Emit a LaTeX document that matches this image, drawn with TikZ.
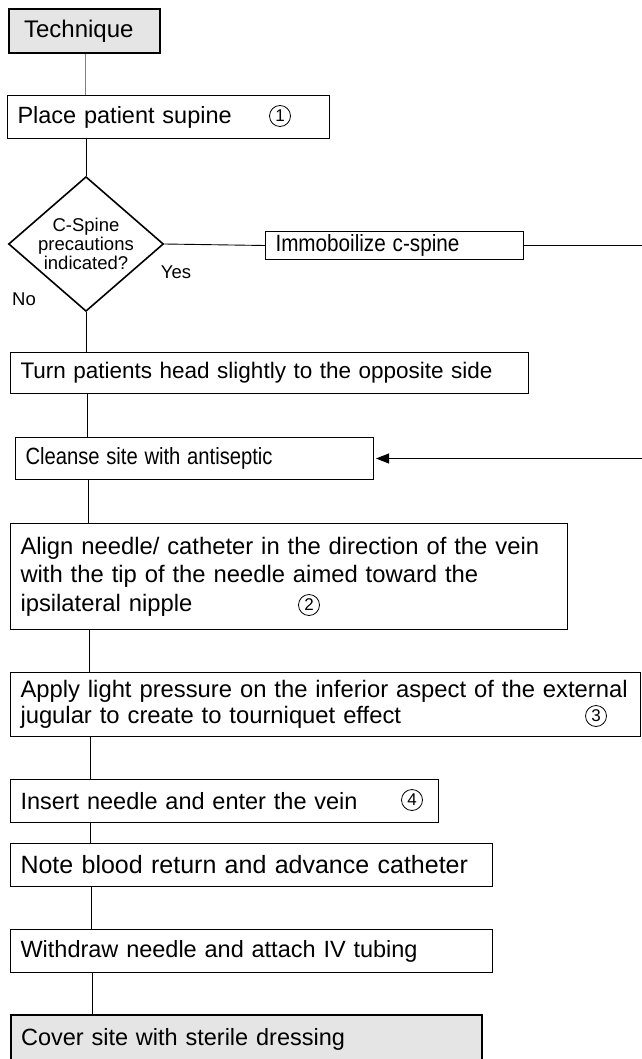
\documentclass[tikz,border=0pt]{standalone}
\usepackage{fontspec}
\setmainfont{Liberation Sans}
\usetikzlibrary{shapes,positioning,calc,arrows.meta}

\begin{document}
\begin{tikzpicture}[
    x=1pt,y=-1pt,
    stepbox/.style={draw,line width=1pt,anchor=north west,align=left,inner xsep=10pt,inner ysep=0pt,font=\fontsize{23.5}{28}\selectfont},
    endbox/.style={stepbox,fill=black!10,line width=2.2pt},
    decision/.style={diamond,draw,line width=1.6pt,aspect=1.15,minimum width=150pt,minimum height=129pt,inner sep=0pt,align=center,font=\fontsize{18.5}{19}\selectfont},
    num/.style={circle,draw,line width=0.8pt,inner sep=0pt,minimum size=21pt,font=\fontsize{17}{17}\selectfont},
    lbl/.style={font=\fontsize{18.5}{18.5}\selectfont},
    link/.style={line width=0.9pt}
    ]
        \useasboundingbox (0,0) rectangle (641,1059);
        \node [endbox,inner xsep=15pt,text width=121pt,minimum height=44pt,font=\fontsize{24}{28}\selectfont](tech) at (8,8) {Technique};
        \node [stepbox,text width=302pt,minimum height=43pt](place) at (7,95) {Place patient supine};
        \node [num](n1) at (280,116) {1};
        \node [decision](spine) at (86,244) {C-Spine\\precautions\\indicated?};
        \node [lbl](yes) at (176,272) {Yes};
        \node [lbl](no) at (24,299) {No};
        \node [stepbox,text width=238pt,minimum height=28pt](immob) at (265,231) {\scalebox{0.88}[1]{Immoboilize c-spine}};
        \node [stepbox,text width=498pt,minimum height=41pt,font=\fontsize{22.5}{27}\selectfont](turn) at (10,352) {Turn patients head slightly to the opposite side};
        \node [stepbox,text width=338pt,minimum height=42pt](clean) at (15,437) {\scalebox{0.86}[1]{Cleanse site with antiseptic}};
        \node [stepbox,text width=537pt,minimum height=106pt,font=\fontsize{23.8}{28.5}\selectfont](align) at (10,523) {Align needle/ catheter in the direction of the vein\\with the tip of the needle aimed toward the\\ipsilateral nipple};
        \node [num](n2) at (309,605) {2};
        \node [stepbox,text width=610pt,minimum height=64pt,font=\fontsize{23.8}{26}\selectfont](apply) at (10,672) {Apply light pressure on the inferior aspect of the external\\jugular to create to tourniquet effect};
        \node [num](n3) at (596,716) {3};
        \node [stepbox,text width=408pt,minimum height=43pt](insert) at (10,779) {Insert needle and enter the vein};
        \node [num](n4) at (412,800) {4};
        \node [stepbox,text width=462pt,minimum height=43pt,font=\fontsize{25}{28}\selectfont](note) at (10,843) {Note blood return and advance catheter};
        \node [stepbox,text width=462pt,minimum height=43pt](withdraw) at (10,929) {Withdraw needle and attach IV tubing};
        \node [endbox,text width=451pt,minimum height=48pt](cover) at (10,1014) {Cover site with sterile dressing};
        \coordinate (edge) at (645,0);
        \draw [link,gray] ($(tech.south west)+(77,0)$) -- ($(place.north west)+(78,0)$);
        \draw [link] ($(place.south west)+(79,0)$) -- (spine.north);
        \draw [link] (spine.east) -- (immob.west);
        \draw [link,-{Triangle[length=13pt,width=10pt]},shorten >=2pt] (immob.east) -- (immob.east -| edge) -- (clean.east -| edge) -- (clean.east);
        \draw [link] (spine.south) -- ($(turn.north west)+(76,0)$);
        \draw [link] ($(turn.south west)+(77,0)$) -- ($(clean.north west)+(72,0)$);
        \draw [link] ($(clean.south west)+(73,0)$) -- ($(align.north west)+(78,0)$);
        \draw [link] ($(align.south west)+(79,0)$) -- ($(apply.north west)+(79,0)$);
        \draw [link] ($(apply.south west)+(80,0)$) -- ($(insert.north west)+(80,0)$);
        \draw [link] ($(insert.south west)+(80,0)$) -- ($(note.north west)+(80,0)$);
        \draw [link] ($(note.south west)+(81,0)$) -- ($(withdraw.north west)+(81,0)$);
        \draw [link] ($(withdraw.south west)+(82,0)$) -- ($(cover.north west)+(82,0)$);
\end{tikzpicture}
\end{document}
